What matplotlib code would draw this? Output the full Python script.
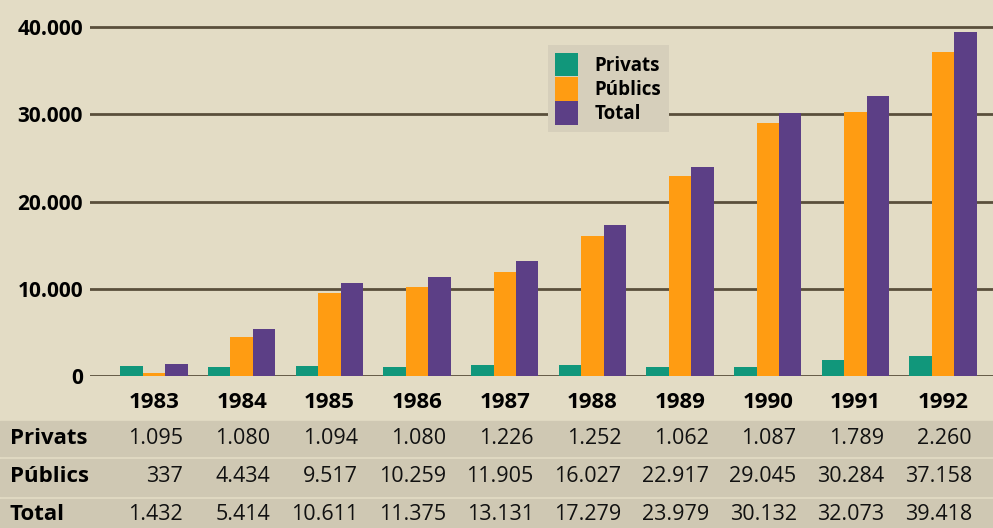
import numpy as np
import matplotlib.pyplot as plt
from matplotlib import transforms
from matplotlib.patches import Rectangle

plt.rcParams['font.family'] = ['Open Sans', 'DejaVu Sans']

years = ['1983', '1984', '1985', '1986', '1987', '1988', '1989', '1990', '1991', '1992']
privats = [1095, 1080, 1094, 1080, 1226, 1252, 1062, 1087, 1789, 2260]
publics = [337, 4434, 9517, 10259, 11905, 16027, 22917, 29045, 30284, 37158]
total = [1432, 5414, 10611, 11375, 13131, 17279, 23979, 30132, 32073, 39418]
series_names = ['Privats', 'Públics', 'Total']
colors = ['#11977b', '#ff9c12', '#5c3f86']
bg = '#e3dcc5'
band = '#cfc8b3'


def fmt(v):
    # punt com a separador de milers
    return f'{v:,}'.replace(',', '.')


fig = plt.figure(figsize=(9.93, 5.28), dpi=100, facecolor=bg)
ax = fig.add_axes([90 / 993, 1 - 376 / 528, 903 / 993, 376 / 528])
ax.set_facecolor(bg)

x = np.arange(len(years))
w = 0.255
for k, vals in enumerate([privats, publics, total]):
    ax.bar(x + (k - 1) * w, vals, width=w, color=colors[k], label=series_names[k], zorder=3)

ax.set_xlim(-0.73, 9.57)
ax.set_ylim(0, 43100)
ax.set_yticks([0, 10000, 20000, 30000, 40000])
ax.set_yticklabels([fmt(v) for v in [0, 10000, 20000, 30000, 40000]],
                   fontsize=15, fontweight='bold')
ax.yaxis.grid(True, color='#5a4f3b', lw=2, zorder=1)
ax.tick_params(axis='y', length=0, pad=5)
ax.set_xticks([])
for s in ax.spines.values():
    s.set_visible(False)

leg = ax.legend(loc='upper left', bbox_to_anchor=(0.507, 0.88), borderaxespad=0,
                frameon=True, fancybox=False, facecolor='#d6cfbb', edgecolor='none',
                framealpha=1, prop={'weight': 'bold', 'size': 13.5},
                handlelength=1.2, handleheight=1.55, handletextpad=0.9,
                labelspacing=0.05, borderpad=0.4)
leg.set_zorder(5)

# anys i taula sota el gràfic
tr = transforms.blended_transform_factory(ax.transData, fig.transFigure)
for i, y in enumerate(years):
    fig.text(x[i], 1 - 402 / 528, y, transform=tr, ha='center', va='center',
             fontsize=16, fontweight='bold')

row_y = [438, 477, 515]
band_spans = [(421, 456), (459, 496), (499, 528)]
rows = [privats, publics, total]
for r in range(3):
    top, bot = band_spans[r]
    fig.patches.append(Rectangle((0, 1 - bot / 528), 1, (bot - top) / 528,
                                 transform=fig.transFigure, color=band, zorder=0))
    fig.text(10 / 993, 1 - row_y[r] / 528, series_names[r], ha='left', va='center',
             fontsize=16, fontweight='bold')
    for i, v in enumerate(rows[r]):
        fig.text(x[i] + 0.33, 1 - row_y[r] / 528, fmt(v), transform=tr,
                 ha='right', va='center', fontsize=15.5, color='#111111')

fig.savefig('out.png', dpi=100, facecolor=bg)
